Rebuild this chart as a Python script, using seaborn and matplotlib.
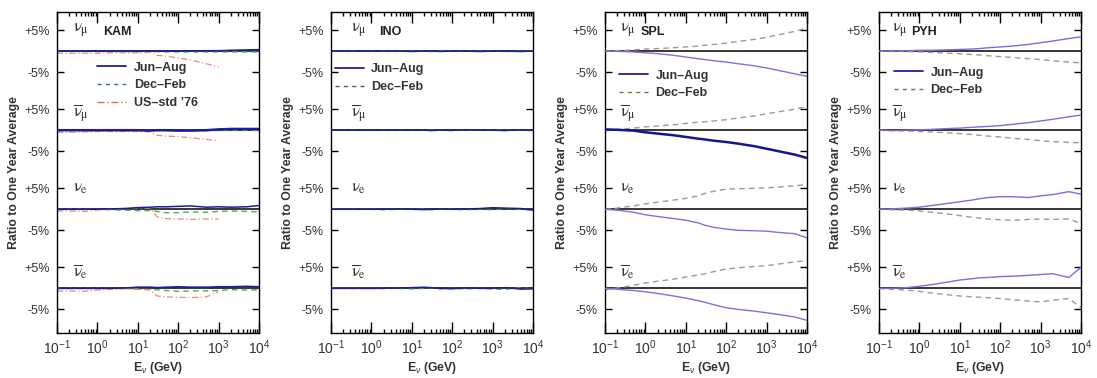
import numpy as np
import pandas as pd
import matplotlib
matplotlib.use("Agg")
import matplotlib.pyplot as plt
import seaborn as sns
from matplotlib.lines import Line2D
from matplotlib.ticker import LogLocator, NullFormatter

nan = np.nan
# Neutrino energy grid (GeV)
energy = [0.1, 0.2, 0.5, 1, 2, 5, 10, 20, 30, 50, 100, 200, 500, 1000, 2000, 5000, 10000]

# ---- KAM (ratio - 1, in %) ----
kam_numu_jun = [0, 0, 0, 0, 0, 0, 0, 0, 0, 0, 0, 0.05, 0.1, 0.1, 0.2, 0.3, 0.35]
kam_numu_dec = [0, -0.1, -0.1, -0.1, -0.1, -0.1, -0.15, -0.15, -0.15, -0.2, -0.2, -0.2, -0.2, -0.2, -0.2, -0.2, -0.2]
kam_numu_us = [-0.5, -0.5, -0.5, -0.5, -0.4, -0.4, -0.4, -0.3, -1.0, -1.2, -1.6, -2.1, -3.0, -3.8, nan, nan, nan]
kam_nubarmu_jun = [0, 0, 0, 0, 0, 0, 0, -0.1, 0, 0, -0.1, -0.1, 0, 0.2, 0.3, 0.3, 0.3]
kam_nubarmu_dec = [0, 0, 0, 0, 0, 0, 0, 0, 0, 0, 0, 0, 0, 0, 0, 0, 0]
kam_nubarmu_us = [-0.5, -0.5, -0.4, -0.3, -0.3, -0.3, -0.3, -0.4, -1.2, -1.4, -1.5, -1.8, -2.2, -2.5, nan, nan, nan]
kam_nue_jun = [0, 0, 0, 0.05, 0.1, 0.2, 0.4, 0.5, 0.6, 0.6, 0.7, 0.8, 0.5, 0.6, 0.5, 0.6, 0.9]
kam_nue_dec = [0, 0, 0, 0, -0.1, -0.2, -0.3, -0.3, -0.5, -0.8, -0.8, -0.6, -0.7, -0.5, -0.4, -0.5, -0.6]
kam_nue_us = [-0.4, -0.4, -0.5, -0.2, 0, 0.2, 0.3, 0.3, -1.8, -2.2, -2.3, -2.4, -2.3, -2.3, nan, nan, nan]
kam_nubare_jun = [0, 0, 0, 0, 0, 0.1, 0.3, 0.3, 0.2, 0.3, 0.4, 0.3, 0.3, 0.4, 0.4, 0.5, 0.4]
kam_nubare_dec = [0, 0, 0, 0, 0, 0, -0.2, -0.3, -0.3, -0.5, -0.7, -0.6, -0.6, -0.5, -0.3, -0.4, -0.3]
kam_nubare_us = [-0.6, -0.6, -0.7, -0.4, -0.2, -0.1, -0.2, -0.3, -1.8, -2.0, -2.1, -2.2, -2.0, -0.8, nan, nan, nan]

# ---- INO ----
ino_numu_jun = [0, 0, 0, 0, 0, 0, -0.1, 0, 0, -0.1, 0, 0, -0.1, 0, 0, -0.1, 0]
ino_numu_dec = [0, 0, 0, 0, 0, 0, 0, 0, -0.1, 0, 0, 0, 0, 0, -0.1, 0, 0]
ino_nubarmu_jun = [0, 0, 0, 0, 0, 0, 0, 0, -0.1, 0, 0, 0.1, 0, 0, -0.1, 0.1, 0]
ino_nubarmu_dec = [0, 0, 0, 0, 0, 0, 0, 0, 0, 0, -0.1, 0, 0, 0.1, 0, 0, -0.1]
ino_nue_jun = [0, 0, 0, 0, 0, 0.1, 0, -0.1, 0, 0.1, 0, 0.1, 0.2, 0.4, 0.3, 0.2, -0.2]
ino_nue_dec = [0, 0, 0, 0, -0.1, 0, 0, 0, -0.1, 0, 0, -0.1, 0, -0.1, 0.2, 0, -0.2]
ino_nubare_jun = [0, 0, 0, 0, 0, 0.1, 0.2, 0.3, 0.2, 0, -0.1, 0.1, 0, 0, 0.2, -0.2, -0.1]
ino_nubare_dec = [0, 0, 0, 0, 0, 0, -0.1, 0, 0.1, -0.1, 0, -0.1, 0, -0.1, -0.2, 0.2, -0.2]

# ---- SPL ----
spl_numu_jun = [0, -0.05, -0.2, -0.4, -0.6, -1.0, -1.4, -1.8, -2.0, -2.3, -2.6, -3.0, -3.5, -4.0, -4.6, -5.4, -6.0]
spl_numu_dec = [0, 0.1, 0.3, 0.5, 0.6, 0.8, 1.0, 1.2, 1.4, 1.6, 1.9, 2.3, 2.8, 3.3, 3.9, 4.7, 5.5]
spl_nubarmu_jun = [0.2, 0.1, -0.1, -0.5, -0.8, -1.2, -1.6, -2.0, -2.2, -2.5, -2.8, -3.2, -3.8, -4.4, -5.0, -5.8, -6.6]
spl_nubarmu_dec = [0, 0.2, 0.5, 0.8, 1.0, 1.3, 1.6, 1.9, 2.0, 2.2, 2.5, 2.9, 3.4, 3.9, 4.4, 5.0, 5.6]
spl_nue_jun = [0, -0.2, -0.7, -1.3, -1.7, -2.2, -2.6, -3.2, -3.8, -4.3, -4.7, -5.0, -5.1, -5.2, -5.5, -5.8, -6.8]
spl_nue_dec = [0, 0.3, 0.8, 1.3, 1.7, 2.2, 2.6, 3.2, 3.8, 4.3, 4.8, 4.9, 5.0, 5.1, 5.3, 5.6, 5.9]
spl_nubare_jun = [0, -0.2, -0.5, -0.8, -1.2, -1.8, -2.3, -2.9, -3.3, -3.9, -4.6, -5.0, -5.4, -5.8, -6.2, -6.8, -7.6]
spl_nubare_dec = [-0.3, 0.1, 0.7, 1.3, 1.7, 2.2, 2.7, 3.2, 3.5, 4.0, 4.6, 4.9, 5.2, 5.4, 5.8, 6.3, 6.6]

# ---- PYH ----
pyh_numu_jun = [0, 0, 0.1, 0.2, 0.2, 0.3, 0.4, 0.5, 0.6, 0.8, 1.0, 1.2, 1.6, 2.0, 2.4, 3.0, 3.4]
pyh_numu_dec = [0, 0, -0.1, -0.2, -0.3, -0.5, -0.6, -0.8, -0.9, -1.1, -1.3, -1.5, -1.8, -2.0, -2.3, -2.6, -2.8]
pyh_nubarmu_jun = [0, -0.1, 0, 0.1, 0.2, 0.4, 0.5, 0.7, 0.8, 0.9, 1.1, 1.4, 1.8, 2.2, 2.6, 3.2, 3.6]
pyh_nubarmu_dec = [0, -0.1, -0.2, -0.3, -0.4, -0.6, -0.8, -1.0, -1.2, -1.4, -1.6, -1.9, -2.2, -2.5, -2.7, -2.9, -3.0]
pyh_nue_jun = [0, 0.1, 0.3, 0.5, 0.9, 1.4, 1.8, 2.2, 2.5, 2.8, 3.0, 3.0, 2.8, 3.2, 3.5, 4.2, 3.6]
pyh_nue_dec = [0, -0.1, -0.2, -0.4, -0.7, -1.1, -1.5, -1.9, -2.1, -2.3, -2.5, -2.6, -2.4, -2.3, -2.4, -2.3, -3.4]
pyh_nubare_jun = [0, 0, 0.2, 0.5, 0.9, 1.5, 2.0, 2.3, 2.5, 2.6, 2.8, 2.9, 3.1, 3.3, 3.5, 2.6, 5.0]
pyh_nubare_dec = [0, -0.2, -0.4, -0.7, -1.1, -1.5, -1.8, -2.0, -2.1, -2.2, -2.4, -2.7, -3.0, -3.2, -2.8, -2.4, -4.5]

panel_names = ["KAM", "INO", "SPL", "PYH"]
flavours = [r"$\mathrm{\nu}_{\mathrm{\mu}}$", r"$\overline{\mathrm{\nu}}_{\mathrm{\mu}}$",
            r"$\mathrm{\nu}_{\mathrm{e}}$", r"$\overline{\mathrm{\nu}}_{\mathrm{e}}$"]
series_labels = ["Jun\u2013Aug", "Dec\u2013Feb", "US\u2013std \u201976"]

panels = {
    "KAM": {"jun": [kam_numu_jun, kam_nubarmu_jun, kam_nue_jun, kam_nubare_jun],
            "dec": [kam_numu_dec, kam_nubarmu_dec, kam_nue_dec, kam_nubare_dec],
            "us": [kam_numu_us, kam_nubarmu_us, kam_nue_us, kam_nubare_us]},
    "INO": {"jun": [ino_numu_jun, ino_nubarmu_jun, ino_nue_jun, ino_nubare_jun],
            "dec": [ino_numu_dec, ino_nubarmu_dec, ino_nue_dec, ino_nubare_dec]},
    "SPL": {"jun": [spl_numu_jun, spl_nubarmu_jun, spl_nue_jun, spl_nubare_jun],
            "dec": [spl_numu_dec, spl_nubarmu_dec, spl_nue_dec, spl_nubare_dec]},
    "PYH": {"jun": [pyh_numu_jun, pyh_nubarmu_jun, pyh_nue_jun, pyh_nubare_jun],
            "dec": [pyh_numu_dec, pyh_nubarmu_dec, pyh_nue_dec, pyh_nubare_dec]},
}

# ---------------- styling ----------------
sns.set_theme(style="ticks")
plt.rcParams["font.family"] = ["Liberation Sans", "DejaVu Sans"]
plt.rcParams["mathtext.fontset"] = "custom"
plt.rcParams["mathtext.rm"] = "Liberation Sans"
plt.rcParams["mathtext.it"] = "Liberation Sans:italic"
plt.rcParams["mathtext.bf"] = "Liberation Sans:bold"

band_offsets = [0.0, -18.8, -37.6, -56.4]
ylim = (-67.0, 9.3)

style = {
    "KAM": {"jun": ("#1c1c9c", 1.1), "dec": ("#4cae4c", 1.0), "us": ("#f08878", 0.9),
            "jun_thick": [1], "leg_dec": "#3f7f3f", "nu_x": 0.08, "title_x": 0.23,
            "leg": (0.2, 0.845)},
    "INO": {"jun": ("#1c1c9c", 1.0), "dec": ("#4a8a4a", 1.0), "jun_thick": [],
            "leg_dec": "#4a6a3a", "nu_x": 0.1, "title_x": 0.24, "leg": (0.02, 0.84)},
    "SPL": {"jun": ("#7676dc", 1.0), "dec": ("#9a9a9a", 1.0), "jun_thick": [1],
            "jun_thick_color": "#16168f", "leg_dec": "#6a7a3a", "nu_x": 0.075,
            "title_x": 0.175, "leg": (0.07, 0.82)},
    "PYH": {"jun": ("#7272dc", 1.0), "dec": ("#9a9a9a", 1.0), "jun_thick": [],
            "leg_dec": "#707070", "nu_x": 0.065, "title_x": 0.16, "leg": (0.075, 0.83)},
}

W, H = 1097, 378
fig = plt.figure(figsize=(W / 100, H / 100), dpi=100)
lefts = [57, 331, 605, 879]
ax_w, ax_top, ax_bot = 202, 12, 333

for name, left in zip(panel_names, lefts):
    ax = fig.add_axes([left / W, (H - ax_bot) / H, ax_w / W, (ax_bot - ax_top) / H])
    st = style[name]
    data = panels[name]
    for b, off in enumerate(band_offsets):
        ax.axhline(off, color="black", lw=1.1, zorder=1.5)
        # Dec-Feb
        c, lw = st["dec"]
        sns.lineplot(x=energy, y=np.array(data["dec"][b]) + off, ax=ax, color=c, lw=lw,
                     linestyle=(0, (4, 3)), legend=False, zorder=2)
        # US std
        if "us" in data:
            c, lw = st["us"]
            sns.lineplot(x=energy, y=np.array(data["us"][b], dtype=float) + off, ax=ax,
                         color=c, lw=lw, linestyle=(0, (5, 2, 1, 2)), legend=False, zorder=2)
        # Jun-Aug
        c, lw = st["jun"]
        if b in st["jun_thick"]:
            c = st.get("jun_thick_color", c)
            lw = 1.8
        sns.lineplot(x=energy, y=np.array(data["jun"][b]) + off, ax=ax, color=c, lw=lw,
                     legend=False, zorder=3)
        ax.text(st["nu_x"], off + 5 - (1.0 if b in (1, 3) else 0), flavours[b],
                transform=ax.get_yaxis_transform(), math_fontfamily="stix",
                fontsize=12, color="#333333", va="center", ha="left")

    ax.text(st["title_x"], band_offsets[0] + 4.6, name, transform=ax.get_yaxis_transform(),
            fontsize=9, fontweight="bold", color="#222222", va="center", ha="left")

    ax.set_xscale("log")
    ax.set_xlim(0.1, 1e4)
    ax.set_ylim(*ylim)
    ax.xaxis.set_major_locator(LogLocator(base=10, numticks=10))
    ax.xaxis.set_minor_locator(LogLocator(base=10, subs=np.arange(2, 10), numticks=20))
    ax.xaxis.set_minor_formatter(NullFormatter())

    yt, yl = [], []
    for off in band_offsets:
        yt += [off + 5, off - 5]
        yl += ["+5%", "-5%"]
    ax.set_yticks(yt)
    ax.set_yticklabels(yl)
    ax.yaxis.set_minor_locator(plt.NullLocator())

    ax.tick_params(axis="both", which="both", direction="in", top=True, right=True,
                   color="black", width=1.0)
    ax.tick_params(axis="y", which="major", length=5, pad=5, labelsize=9, labelcolor="#333333")
    ax.tick_params(axis="x", which="major", length=8, pad=4, labelsize=10, labelcolor="#333333")
    ax.tick_params(axis="x", which="minor", length=3)
    for sp in ax.spines.values():
        sp.set_color("black")
        sp.set_linewidth(1.0)

    ax.set_ylabel("Ratio to One Year Average", fontsize=8.8, fontweight="bold",
                  color="#333333", labelpad=3)
    ax.set_xlabel(r"E$_{\nu}$ (GeV)", fontsize=8.8, fontweight="bold", color="#333333",
                  labelpad=2)

    handles = [Line2D([], [], color="#20208a", lw=1.3),
               Line2D([], [], color=st["leg_dec"], lw=1.0, linestyle=(0, (3, 3)))]
    labels = series_labels[:2]
    if "us" in data:
        handles.append(Line2D([], [], color="#e06a5a", lw=1.0, linestyle=(0, (5, 2, 1, 2))))
        labels.append(series_labels[2])
    ax.legend(handles, labels, frameon=False, loc="upper left", bbox_to_anchor=st["leg"],
              prop={"weight": "bold", "size": 9}, handlelength=2.3, handletextpad=0.6,
              labelspacing=0.45, borderaxespad=0, borderpad=0, labelcolor="#333333")

fig.savefig("out.png", dpi=100)
